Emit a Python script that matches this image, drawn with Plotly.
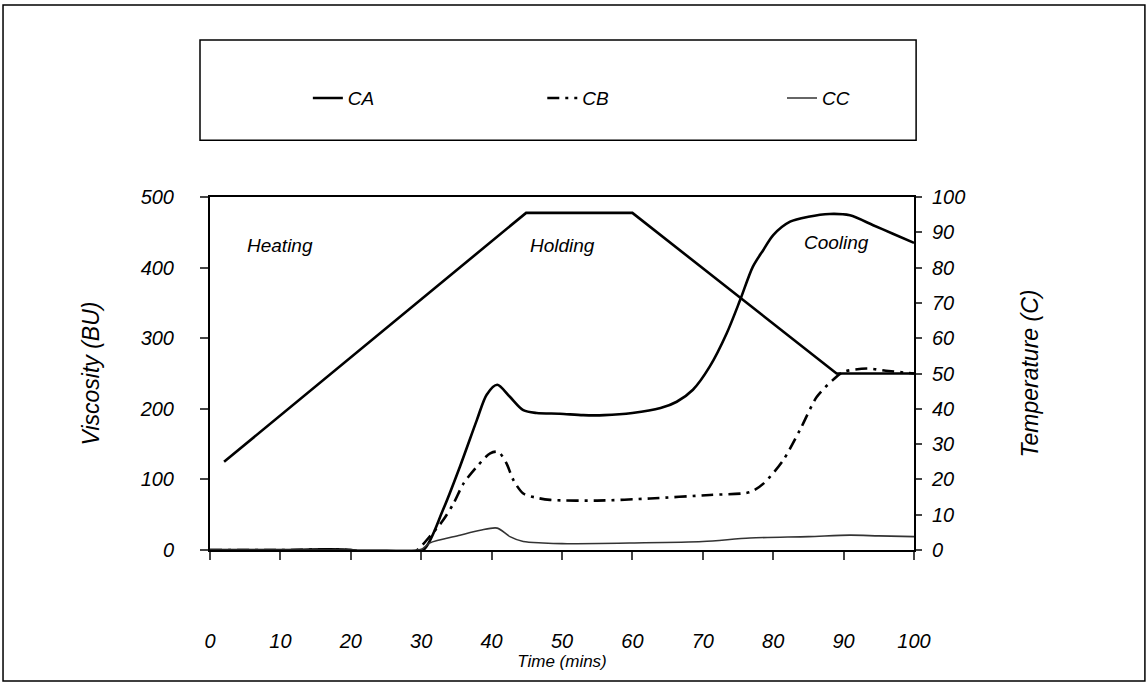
import plotly.graph_objects as go

# ---- data ----
ca_t = [0, 10, 20, 22, 24, 27, 30.3, 33.1, 35.5, 37.9, 39.3, 40.8, 42.6, 44.5, 46.4, 49.7, 53, 56, 60, 64, 66.3, 68.6, 71, 73.4, 75.3, 77.1, 78.6, 80, 82.4, 85, 88, 90.9, 94.2, 97, 100]
ca_v = [0, 0, 0, -5, -7, -3, 0, 57, 118, 184, 220, 234, 217, 198, 194, 193, 191, 191, 194, 201, 210, 227, 260, 307, 354, 401, 425, 446, 465, 472, 476, 474, 460, 448, 435]

cb_t = [0, 10, 20, 23, 26, 29, 31.2, 33.1, 34.6, 36, 37.9, 39.8, 40.95, 42.1, 43.1, 44.5, 46.4, 48.3, 55, 62.5, 71, 76.7, 78.6, 81.4, 83.8, 86.2, 88.5, 89.9, 93.3, 96, 99, 100]
cb_v = [0, 0, 0, -5, -4, -3, 19, 42, 66, 94, 118, 137, 139, 123, 99, 80, 74, 71, 70, 73, 78, 82, 94, 127, 170, 217, 241, 252, 257, 254, 251, 250]

cc_t = [0, 10, 20, 25, 30, 31.2, 35.5, 38.4, 40.8, 42.6, 44.5, 47.3, 50, 60, 70, 76.7, 85, 90.9, 95, 100]
cc_v = [0, 0, 0, 0, 1, 10, 21, 28, 31, 19, 12, 10, 9, 10, 12, 17, 19, 21, 20, 19]

temp_t = [2, 44.9, 60, 89, 100]
temp_v = [25, 95.5, 95.5, 50, 50]

x_ticks = [0, 10, 20, 30, 40, 50, 60, 70, 80, 90, 100]
y_ticks = [0, 100, 200, 300, 400, 500]
y2_ticks = [0, 10, 20, 30, 40, 50, 60, 70, 80, 90, 100]

phase_labels = ["Heating", "Holding", "Cooling"]
phase_x = [10, 50.1, 89]
phase_y = [432, 432, 436]

FONT = "Liberation Sans, Arial, Helvetica, sans-serif"


def ital(size):
    return dict(family=FONT, size=size, color="black", style="italic")


fig = go.Figure()
fig.add_trace(go.Scatter(x=ca_t, y=ca_v, name="CA", mode="lines", legend="legend",
                         line=dict(color="black", width=2.6, shape="spline", smoothing=0.8)))
fig.add_trace(go.Scatter(x=cb_t, y=cb_v, name="CB", mode="lines", legend="legend2",
                         line=dict(color="black", width=2.6, dash="12px,6px,3px,6px",
                                   shape="spline", smoothing=0.8)))
fig.add_trace(go.Scatter(x=cc_t, y=cc_v, name="CC", mode="lines", legend="legend3",
                         line=dict(color="#333333", width=1.6, shape="spline", smoothing=0.8)))
fig.add_trace(go.Scatter(x=temp_t, y=temp_v, name="Temperature", mode="lines", yaxis="y2",
                         showlegend=False, line=dict(color="black", width=2.6)))

for lab, xx, yy in zip(phase_labels, phase_x, phase_y):
    fig.add_annotation(x=xx, y=yy, text=lab, showarrow=False, font=ital(19))

# outer frame and legend frame
fig.add_shape(type="rect", xref="paper", yref="paper",
              x0=-0.294, x1=1.328, y0=-0.371, y1=1.544,
              line=dict(color="black", width=1.5), layer="below")
fig.add_shape(type="rect", xref="paper", yref="paper",
              x0=-0.0142, x1=1.003, y0=1.161, y1=1.445,
              line=dict(color="black", width=1.5), layer="below")

leg_common = dict(orientation="h", y=1.28, xanchor="left", yanchor="middle",
                  font=ital(19), bgcolor="rgba(0,0,0,0)", borderwidth=0)

fig.update_layout(
    width=1148, height=686,
    margin=dict(l=210, r=234, t=197, b=136, autoexpand=False),
    paper_bgcolor="white", plot_bgcolor="white",
    font=ital(19),
    showlegend=True,
    legend=dict(x=0.139, **leg_common),
    legend2=dict(x=0.472, **leg_common),
    legend3=dict(x=0.8125, **leg_common),
    xaxis=dict(range=[0, 100], tickvals=x_ticks, ticks="outside", ticklen=8, tickwidth=1.5,
               showline=True, linecolor="black", linewidth=2, mirror=True,
               showgrid=False, zeroline=False, ticklabelstandoff=64,
               tickfont=ital(20),
               title=dict(text="Time (mins)", standoff=2, font=ital(17))),
    yaxis=dict(range=[0, 500], tickvals=y_ticks, ticks="outside", ticklen=8, tickwidth=1.5,
               showline=True, linecolor="black", linewidth=2, mirror=False,
               showgrid=False, zeroline=False, ticklabelstandoff=22,
               tickfont=ital(20),
               title=dict(text="Viscosity (BU)", standoff=34, font=ital(23))),
    yaxis2=dict(range=[0, 100], tickvals=y2_ticks, overlaying="y", side="right",
                ticks="outside", ticklen=6, tickwidth=1.5,
                showline=True, linecolor="black", linewidth=2,
                showgrid=False, zeroline=False, ticklabelstandoff=6,
                tickfont=ital(20),
                title=dict(text="Temperature (C)", standoff=58, font=ital(23))),
)

fig.write_html("out.html", config={"displayModeBar": False},
               post_script="document.body.style.margin='0';document.body.style.overflow='hidden';")
